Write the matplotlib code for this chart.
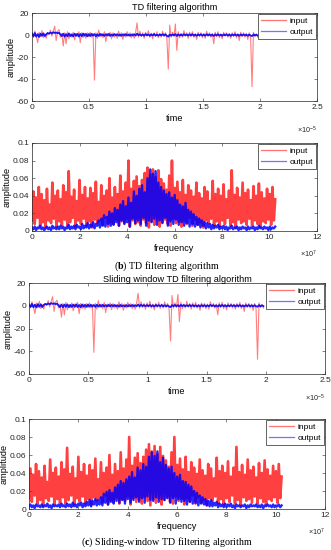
import numpy as np
import matplotlib
matplotlib.use("Agg")
import matplotlib.pyplot as plt
from matplotlib.ticker import FuncFormatter

plt.rcParams['font.family'] = ['Liberation Sans', 'DejaVu Sans']
plt.rcParams['mathtext.fontset'] = 'custom'
plt.rcParams['mathtext.rm'] = 'Liberation Sans'
plt.rcParams['mathtext.it'] = 'Liberation Sans:italic'
plt.rcParams['mathtext.bf'] = 'Liberation Serif:bold'

# ---------------- data ----------------
t_end = 1.98e-5
f_end = 10.24e7

time_input = [
    1.5, -2.0, 3.5, -1.0, -7.0, 2.5, -1.5, 4.0, -2.5, 1.0,
    -3.0, 2.0, 0.5, 4.5, -1.0, 3.5, 8.0, -5.0, 3.0, 5.0,
    -2.0, 1.5, -10.0, 2.0, -8.0, 3.0, -3.5, 1.0, -2.0, 2.5,
    -4.5, 1.5, -1.0, 3.0, -7.0, 2.0, -2.5, 1.5, -3.0, 2.0,
    -1.5, 2.5, -2.0, 1.0, -41.0, 2.0, -3.0, 4.5, -1.5, 1.5,
    -2.5, 3.0, -6.0, 1.5, -1.0, 2.5, -3.5, 2.0, -2.0, 1.0,
    -3.0, 3.5, -1.5, 2.0, -4.0, 1.5, -2.0, 3.0, -1.0, 2.0,
    -2.5, 1.5, -3.0, 2.5, 11.0, -2.0, 3.5, -1.5, 2.0, -3.0,
    2.5, -1.0, 4.0, -2.0, 1.5, -3.5, 2.0, -1.5, 3.0, -2.5,
    1.5, -2.0, 3.5, -1.0, 2.0, -3.0, -31.0, 9.0, -2.0, 2.5,
    -1.5, 10.0, -14.0, 3.0, -2.5, 1.5, -2.0, 4.0, -1.0, 2.0,
    -3.0, 2.5, -1.5, 3.0, -2.0, 1.0, -4.0, 2.5, -1.5, 2.0,
    -2.5, 1.5, -3.0, 3.5, -1.0, 2.0, -2.0, 1.5, -8.0, 2.5,
    -1.5, 3.0, -2.5, 1.0, -3.5, 2.5, -1.0, 2.0, -2.0, 1.5,
    -3.0, 2.0, -1.5, 3.0, -2.5, 1.0, -5.0, 2.5, -1.5, 2.0,
    -2.0, 1.5, -4.0, 2.0, -3.0, -47.0, 2.5, -1.5, 1.0, -2.0,
]

time_output_b = [
    1.5, -1.2, 1.8, -1.5, 0.8, -1.8, 1.2, -0.8, 1.5, -1.0,
    0.5, 1.8, 1.2, 2.2, 1.5, 2.5, 1.8, 2.3, 1.6, 2.0,
    0.5, -1.0, 1.2, -1.5, 0.8, -1.2, 1.4, -1.0, 0.6, -1.3,
    1.2, -0.8, 1.0, -1.4, 0.9, -1.1, 1.3, -0.7, 1.0, -1.2,
    0.8, -1.0, 1.1, -0.6, 0.9, -1.2, 0.7, -0.9, 1.0, -0.5,
    0.6, -0.9, 0.8, -0.5, 1.0, -0.8, 0.5, -0.7, 0.9, -0.4,
    0.7, -0.6, 0.5, -0.8, 0.6, -0.4, 0.8, -0.5, 0.4, -0.7,
    0.5, -0.4, 0.7, -0.6, 1.2, -0.3, 0.6, -0.5, 0.4, -0.6,
    0.8, -0.3, 0.5, -0.7, 0.6, -0.4, 0.9, -0.5, 0.3, -0.6,
    0.5, -0.4, 0.7, -0.5, 0.6, -0.8, -1.5, 0.4, -0.6, 0.5,
    -0.3, 0.8, -0.9, 0.6, -0.5, 0.4, -0.6, 0.7, -0.3, 0.5,
    -0.5, 0.6, -0.4, 0.7, -0.6, 0.4, -0.7, 0.5, -0.3, 0.6,
    -0.5, 0.3, -0.6, 0.7, -0.4, 0.5, -0.5, 0.3, -0.9, 0.5,
    -0.4, 0.6, -0.5, 0.3, -0.7, 0.5, -0.3, 0.6, -0.5, 0.4,
    -0.7, 0.4, -0.3, 0.6, -0.5, 0.4, -0.8, 0.5, -0.4, 0.5,
    -0.4, 0.3, -0.7, 0.4, -0.5, -1.0, 0.5, -0.4, 0.3, -0.5,
]

time_output_c = [
    1.2, -1.0, 1.6, -1.3, 1.0, -1.5, 1.4, -0.9, 1.3, -1.1,
    0.7, 1.6, 1.0, 2.0, 1.3, 2.3, 1.6, 2.1, 1.4, 1.8,
    0.3, -1.2, 1.0, -1.3, 1.0, -1.0, 1.2, -1.2, 0.8, -1.1,
    1.0, -1.0, 1.2, -1.2, 0.7, -1.3, 1.1, -0.9, 0.8, -1.0,
    1.0, -0.8, 0.9, -0.8, 0.7, -1.0, 0.9, -0.7, 0.8, -0.7,
    0.8, -0.7, 0.6, -0.7, 0.8, -0.6, 0.7, -0.5, 0.7, -0.6,
    0.5, -0.8, 0.7, -0.6, 0.4, -0.6, 0.6, -0.7, 0.6, -0.5,
    0.7, -0.6, 0.5, -0.4, 1.0, -0.5, 0.8, -0.3, 0.6, -0.4,
    0.6, -0.5, 0.7, -0.5, 0.4, -0.6, 0.7, -0.3, 0.5, -0.4,
    0.7, -0.6, 0.5, -0.7, 0.4, -0.6, -1.2, 0.6, -0.4, 0.7,
    -0.5, 0.6, -0.7, 0.8, -0.3, 0.6, -0.4, 0.5, -0.5, 0.7,
    -0.4, 0.6, -0.5, 0.4, -0.6, 0.5, -0.7, 0.6, -0.4, 0.5,
    -0.6, 0.4, -0.5, 0.7, -0.3, 0.5, -0.6, 0.4, -0.8, 0.6,
    -0.5, 0.7, -0.4, 0.5, -0.6, 0.4, -0.5, 0.6, -0.3, 0.5,
    -0.6, 0.5, -0.4, 0.6, -0.5, 0.3, -0.7, 0.5, -0.4, 0.6,
    -0.5, 0.4, -0.6, 0.5, -0.4, -0.9, 0.6, -0.5, 0.4, -0.3,
]

spec_input = [
    0.012, 0.045, 0.008, 0.038, 0.015, 0.050, 0.006, 0.042, 0.010, 0.035,
    0.004, 0.048, 0.012, 0.030, 0.009, 0.055, 0.014, 0.040, 0.005, 0.046,
    0.011, 0.036, 0.007, 0.052, 0.013, 0.044, 0.006, 0.068, 0.010, 0.039,
    0.015, 0.047, 0.005, 0.034, 0.012, 0.058, 0.008, 0.041, 0.014, 0.050,
    0.006, 0.037, 0.011, 0.049, 0.004, 0.043, 0.013, 0.056, 0.009, 0.033,
    0.012, 0.052, 0.007, 0.040, 0.015, 0.046, 0.005, 0.060, 0.010, 0.038,
    0.008, 0.050, 0.013, 0.042, 0.006, 0.063, 0.011, 0.045, 0.009, 0.055,
    0.014, 0.080, 0.005, 0.048, 0.012, 0.057, 0.008, 0.062, 0.010, 0.051,
    0.006, 0.058, 0.013, 0.066, 0.009, 0.072, 0.004, 0.064, 0.011, 0.070,
    0.007, 0.061, 0.012, 0.069, 0.005, 0.059, 0.010, 0.054, 0.013, 0.047,
    0.008, 0.063, 0.006, 0.080, 0.014, 0.049, 0.009, 0.056, 0.011, 0.044,
    0.005, 0.058, 0.012, 0.041, 0.008, 0.052, 0.015, 0.046, 0.006, 0.039,
    0.013, 0.055, 0.007, 0.043, 0.010, 0.037, 0.004, 0.050, 0.012, 0.045,
    0.009, 0.034, 0.014, 0.057, 0.006, 0.042, 0.011, 0.048, 0.005, 0.040,
    0.012, 0.053, 0.008, 0.036, 0.015, 0.046, 0.006, 0.069, 0.010, 0.041,
    0.004, 0.049, 0.013, 0.038, 0.009, 0.055, 0.011, 0.043, 0.007, 0.047,
    0.014, 0.035, 0.006, 0.051, 0.012, 0.040, 0.008, 0.054, 0.005, 0.044,
    0.011, 0.037, 0.009, 0.048, 0.013, 0.042, 0.007, 0.050, 0.012, 0.036,
]

spec_output_b = [
    0.004, 0.002, 0.005, 0.001, 0.004, 0.003, 0.006, 0.002, 0.004, 0.001,
    0.003, 0.005, 0.002, 0.004, 0.001, 0.006, 0.003, 0.004, 0.002, 0.005,
    0.002, 0.006, 0.003, 0.005, 0.001, 0.004, 0.003, 0.007, 0.002, 0.005,
    0.003, 0.006, 0.002, 0.007, 0.004, 0.005, 0.002, 0.008, 0.003, 0.006,
    0.004, 0.009, 0.003, 0.007, 0.005, 0.010, 0.003, 0.008, 0.006, 0.012,
    0.004, 0.014, 0.006, 0.018, 0.005, 0.016, 0.008, 0.022, 0.006, 0.020,
    0.007, 0.026, 0.010, 0.024, 0.006, 0.030, 0.012, 0.034, 0.008, 0.028,
    0.010, 0.038, 0.005, 0.032, 0.014, 0.045, 0.009, 0.040, 0.012, 0.048,
    0.008, 0.052, 0.015, 0.044, 0.006, 0.060, 0.012, 0.070, 0.010, 0.065,
    0.014, 0.068, 0.007, 0.055, 0.012, 0.050, 0.009, 0.046, 0.015, 0.042,
    0.006, 0.044, 0.011, 0.038, 0.008, 0.041, 0.013, 0.035, 0.007, 0.030,
    0.010, 0.028, 0.006, 0.032, 0.009, 0.024, 0.005, 0.022, 0.008, 0.019,
    0.005, 0.016, 0.007, 0.014, 0.004, 0.012, 0.006, 0.010, 0.003, 0.009,
    0.004, 0.008, 0.002, 0.007, 0.003, 0.006, 0.004, 0.007, 0.002, 0.005,
    0.003, 0.006, 0.002, 0.005, 0.001, 0.004, 0.003, 0.006, 0.002, 0.004,
    0.003, 0.005, 0.001, 0.004, 0.002, 0.005, 0.003, 0.004, 0.001, 0.005,
    0.002, 0.004, 0.003, 0.005, 0.001, 0.004, 0.002, 0.006, 0.003, 0.004,
    0.002, 0.005, 0.003, 0.004, 0.001, 0.005, 0.002, 0.004, 0.003, 0.005,
]

spec_output_c = [
    0.003, 0.005, 0.002, 0.004, 0.001, 0.005, 0.003, 0.004, 0.002, 0.005,
    0.002, 0.004, 0.003, 0.006, 0.002, 0.004, 0.001, 0.005, 0.003, 0.004,
    0.003, 0.005, 0.002, 0.006, 0.003, 0.004, 0.002, 0.006, 0.003, 0.005,
    0.002, 0.007, 0.003, 0.005, 0.002, 0.006, 0.004, 0.007, 0.002, 0.006,
    0.003, 0.008, 0.004, 0.010, 0.003, 0.009, 0.005, 0.011, 0.004, 0.010,
    0.005, 0.013, 0.004, 0.017, 0.007, 0.019, 0.005, 0.021, 0.008, 0.018,
    0.006, 0.024, 0.009, 0.027, 0.007, 0.031, 0.010, 0.029, 0.006, 0.033,
    0.011, 0.036, 0.007, 0.041, 0.010, 0.035, 0.013, 0.046, 0.008, 0.043,
    0.012, 0.050, 0.007, 0.047, 0.014, 0.058, 0.010, 0.063, 0.009, 0.059,
    0.013, 0.064, 0.008, 0.052, 0.011, 0.057, 0.010, 0.049, 0.012, 0.045,
    0.007, 0.047, 0.012, 0.040, 0.006, 0.036, 0.011, 0.038, 0.008, 0.031,
    0.009, 0.030, 0.005, 0.027, 0.008, 0.025, 0.006, 0.020, 0.007, 0.018,
    0.004, 0.015, 0.006, 0.013, 0.005, 0.011, 0.004, 0.009, 0.003, 0.010,
    0.003, 0.007, 0.004, 0.008, 0.002, 0.006, 0.003, 0.005, 0.002, 0.006,
    0.002, 0.005, 0.003, 0.006, 0.002, 0.004, 0.001, 0.005, 0.003, 0.004,
    0.002, 0.004, 0.003, 0.005, 0.001, 0.004, 0.002, 0.005, 0.003, 0.004,
    0.003, 0.005, 0.002, 0.004, 0.002, 0.005, 0.001, 0.004, 0.003, 0.005,
    0.003, 0.004, 0.002, 0.005, 0.002, 0.004, 0.003, 0.005, 0.002, 0.004,
]

time_ticks = [0, 0.5e-5, 1e-5, 1.5e-5, 2e-5, 2.5e-5]
time_yticks = [-60, -40, -20, 0, 20]
freq_ticks = [0, 2e7, 4e7, 6e7, 8e7, 10e7, 12e7]
freq_yticks = [0, 0.02, 0.04, 0.06, 0.08, 0.1]

t = np.linspace(0, t_end, len(time_input))
f = np.linspace(0, f_end, len(spec_input))

# ---------------- figure ----------------
W, H = 331, 550
fig = plt.figure(figsize=(W / 100, H / 100), dpi=100)

def rect(l, r, top, bot):
    return [l / W, 1 - bot / H, (r - l) / W, (bot - top) / H]

FS = 6.0
LFS = 6.6
AXC = '#262626'

def style(ax):
    for s in ax.spines.values():
        s.set_linewidth(0.5)
        s.set_color(AXC)
    ax.tick_params(direction='in', length=2, width=0.4, labelsize=FS,
                   colors=AXC, top=True, right=True, pad=2)

def legend(ax):
    lg = ax.legend(loc='upper right', fontsize=FS, frameon=True, fancybox=False,
                   edgecolor=AXC, framealpha=1, borderaxespad=0.15,
                   handlelength=3.0, handletextpad=0.5, borderpad=0.3,
                   labelspacing=0.45)
    lg.get_frame().set_linewidth(0.5)
    for ln in lg.get_lines():
        ln.set_linewidth(0.9)
        ln.set_alpha(0.55)

def time_panel(ax, yout, offset_y):
    ax.plot(t, time_input, color='red', lw=0.8, alpha=0.5, label='input')
    ax.plot(t, yout, color='blue', lw=1.3, alpha=0.9, label='output')
    ax.set_xlim(0, 2.5e-5)
    ax.set_ylim(-60, 20)
    ax.set_xticks(time_ticks)
    ax.set_yticks(time_yticks)
    ax.xaxis.set_major_formatter(FuncFormatter(lambda v, p: f"{v / 1e-5:g}"))
    ax.yaxis.set_major_formatter(FuncFormatter(lambda v, p: f"{v:g}"))
    ax.set_xlabel('time', fontsize=LFS, labelpad=2.5)
    ax.set_ylabel('amplitude', fontsize=LFS, labelpad=1)
    ax.text(1.0, offset_y, r'$\times10^{-5}$', transform=ax.transAxes,
            ha='right', va='top', fontsize=FS - 0.8, color=AXC)
    style(ax)
    legend(ax)

def freq_panel(ax, yout, offset_y):
    ax.plot(f, spec_input, color='red', lw=1.9, alpha=0.75, label='input')
    ax.plot(f, yout, color='blue', lw=1.7, alpha=0.85, label='output')
    ax.set_xlim(0, 12e7)
    ax.set_ylim(0, 0.1)
    ax.set_xticks(freq_ticks)
    ax.set_yticks(freq_yticks)
    ax.xaxis.set_major_formatter(FuncFormatter(lambda v, p: f"{v / 1e7:g}"))
    ax.yaxis.set_major_formatter(FuncFormatter(lambda v, p: f"{v:g}"))
    ax.set_xlabel('frequency', fontsize=LFS, labelpad=2.5)
    ax.set_ylabel('amplitude', fontsize=LFS, labelpad=1)
    ax.text(1.0, offset_y, r'$\times10^{7}$', transform=ax.transAxes,
            ha='right', va='top', fontsize=FS - 0.8, color=AXC)
    style(ax)
    legend(ax)

ax1 = fig.add_axes(rect(32, 317, 13, 101))
time_panel(ax1, time_output_b, -0.27)
ax1.set_title('TD filtering algorithm', fontsize=LFS, pad=2)

ax2 = fig.add_axes(rect(32, 317, 143, 231))
freq_panel(ax2, spec_output_b, -0.2)

ax3 = fig.add_axes(rect(29, 325, 283, 374))
time_panel(ax3, time_output_c, -0.2)
ax3.set_title('Sliding window TD filtering algorithm', fontsize=LFS, pad=1)

ax4 = fig.add_axes(rect(29, 325, 419, 509))
freq_panel(ax4, spec_output_c, -0.2)

fig.text(167 / W, 1 - 266 / H, r'($\mathbf{b}$) TD filtering algorithm',
         ha='center', va='center', fontsize=7.2, family='Liberation Serif')
fig.text(167 / W, 1 - 542 / H, r'($\mathbf{c}$) Sliding-window TD filtering algorithm',
         ha='center', va='center', fontsize=7.2, family='Liberation Serif')

fig.savefig('out.png', dpi=100)
